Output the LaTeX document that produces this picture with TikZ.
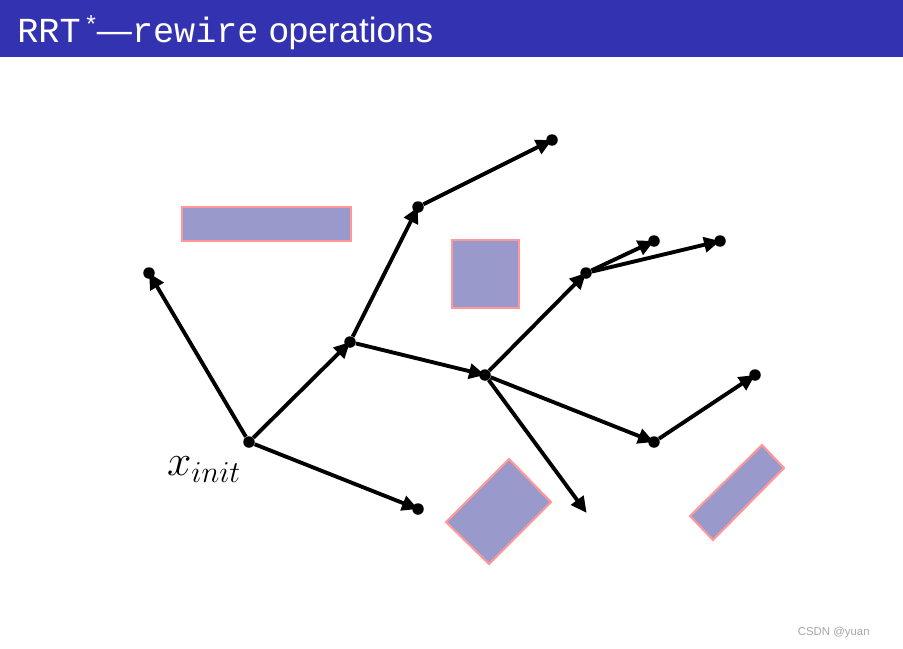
\documentclass[tikz,border=0pt]{standalone}
\usepackage{fontspec}
\setsansfont{Liberation Sans}
\setmonofont{Liberation Mono}
\usetikzlibrary{arrows.meta}
\definecolor{titleblue}{RGB}{51,51,178}
\definecolor{obstfill}{RGB}{153,153,204}
\definecolor{obstline}{RGB}{255,153,153}
\tikzset{
    vertex/.style={circle, inner sep=0mm, fill=black, minimum size=2.3mm},
    tree/.style={line width=2.2pt, shorten >=-3.5pt,
        -{Triangle[length=3.2mm, width=3mm]}},
    obstacle/.style={fill=obstfill, draw=obstline, line width=1.2pt}
}
\tikzset{every label/.style={shape=rectangle, draw=none, fill=none, inner sep=0mm}}

\begin{document}
\begin{tikzpicture}[x=0.02cm, y=-0.02cm]
    \useasboundingbox (0,0) rectangle (903,649);

    % title bar
    \fill[titleblue] (0,0) rectangle (903,57);
    \node (title) at (17,42) [anchor=base west, text=white, inner sep=0mm,
        font=\fontsize{20}{24}\selectfont]
        {\texttt{RRT}\,\textsf{\raisebox{-2pt}{\textsuperscript{*}}---}\texttt{rewire} \textsf{operations}};

    % obstacles
    \draw[obstacle] (182,207) rectangle (351,241);
    \draw[obstacle] (452,240) rectangle (519,308);
    \draw[obstacle] (446,522) -- (509,459) -- (551,502) -- (489,564) -- cycle;
    \draw[obstacle] (690,516) -- (762,445) -- (784,468) -- (713,540) -- cycle;

    % tree vertices
    \node (init) at (249,442) [vertex, label={[label distance=1.5mm, xshift=0.4mm,
        yshift=-1mm, font=\fontsize{25}{30}\selectfont]below left:$x_{init}$}] {};
    \node (a) at (149,273) [vertex] {};
    \node (b) at (350,342) [vertex] {};
    \node (c) at (418,207) [vertex] {};
    \node (d) at (552,140) [vertex] {};
    \node (e) at (485,375) [vertex] {};
    \node (f) at (586,273) [vertex] {};
    \node (g) at (654,241) [vertex] {};
    \node (h) at (720,241) [vertex] {};
    \node (i) at (654,442) [vertex] {};
    \node (j) at (755,375) [vertex] {};
    \node (k) at (418,509) [vertex] {};
    \coordinate (l) at (583,508);

    % tree edges
    \draw[tree] (init) -- (a);
    \draw[tree] (init) -- (b);
    \draw[tree] (init) -- (k);
    \draw[tree] (b) -- (c);
    \draw[tree] (c) -- (d);
    \draw[tree] (b) -- (e);
    \draw[tree] (e) -- (f);
    \draw[tree] (f) -- (g);
    \draw[tree] (f) -- (h);
    \draw[tree] (e) -- (i);
    \draw[tree] (i) -- (j);
    \draw[tree] (e) -- (l);

    \node (mark) at (870,633) [anchor=east, inner sep=0mm, text=gray!70,
        font=\sffamily\fontsize{6.5}{8}\selectfont] {CSDN @yuan};
\end{tikzpicture}
\end{document}
